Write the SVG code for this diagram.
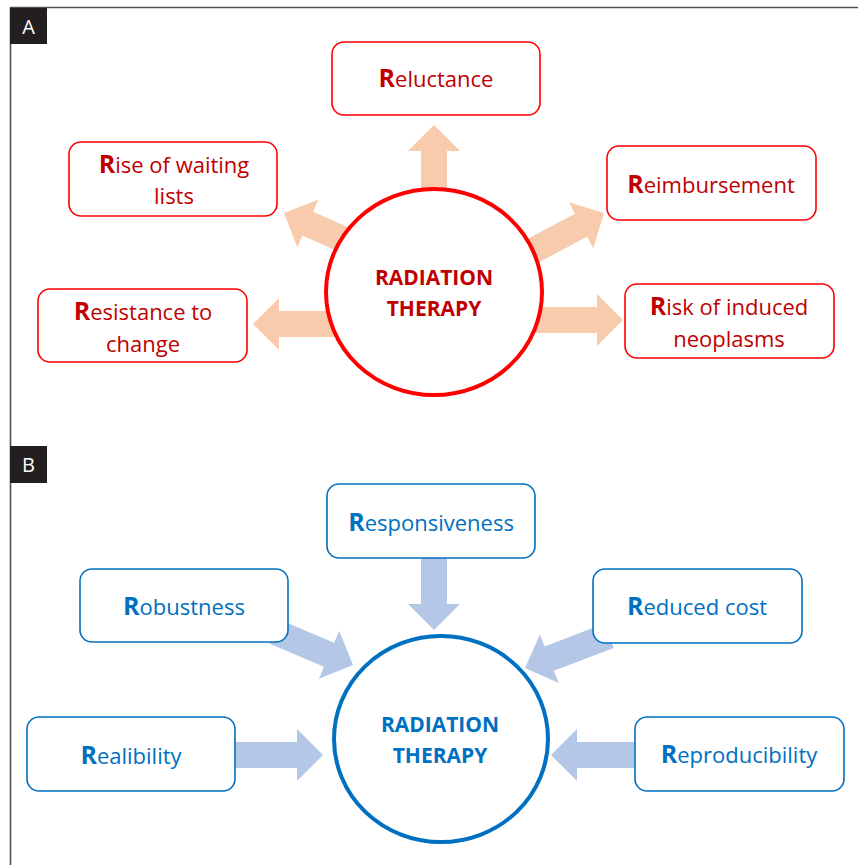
<svg xmlns="http://www.w3.org/2000/svg" width="858" height="865" viewBox="0 0 858 865">
<style>
.frame{stroke:#505050;stroke-width:1.6;fill:none}
.tag{fill:#231F20}
.tagt{fill:#fff;font-family:"Open Sans","Liberation Sans",sans-serif;font-size:20px;text-anchor:middle}
.boxA{fill:#fff;stroke:#FF0000;stroke-width:1.6}
.boxB{fill:#fff;stroke:#0070C0;stroke-width:1.6}
.txt{font-family:"Open Sans","Liberation Sans",sans-serif;font-size:22px;text-anchor:middle}
.tA{fill:#C00000}
.tB{fill:#0070C0}
.b{font-weight:bold;font-size:25px}
.ctr{font-family:"Open Sans","Liberation Sans",sans-serif;font-size:21px;font-weight:bold;text-anchor:middle}
.arA{fill:#F8CBAD}
.arB{fill:#B4C7E7}
</style>
<rect width="858" height="865" fill="#fff"/>
<g id="frame">
<line class="frame" x1="10" y1="7.5" x2="858" y2="7.5"/>
<line class="frame" x1="10.5" y1="7" x2="10.5" y2="865"/>
<rect class="tag" x="10" y="8" width="37" height="36"/>
<text class="tagt" x="28.5" y="34">A</text>
<rect class="tag" x="10" y="446" width="37" height="37"/>
<text class="tagt" x="28.5" y="472">B</text>
</g>
<g id="connectors">
<polygon class="arA" transform="translate(434,125) rotate(-90)" points="0,0 -26,-26 -26,-13 -167,-13 -167,13 -26,13 -26,26"/>
<polygon class="arA" transform="translate(284,213) rotate(204)" points="0,0 -26,-26 -26,-13 -169,-13 -169,13 -26,13 -26,26"/>
<polygon class="arA" transform="translate(604,213) rotate(-28)" points="0,0 -26,-26 -26,-13 -170,-13 -170,13 -26,13 -26,26"/>
<polygon class="arA" transform="translate(253,324) rotate(180)" points="0,0 -26,-26 -26,-13 -180,-13 -180,13 -26,13 -26,26"/>
<polygon class="arA" transform="translate(623,320)" points="0,0 -26,-26 -26,-13 -190,-13 -190,13 -26,13 -26,26"/>
<polygon class="arB" transform="translate(434,630) rotate(90)" points="0,0 -26,-26 -26,-13 -85,-13 -85,13 -26,13 -26,26"/>
<polygon class="arB" transform="translate(353,665) rotate(23)" points="0,0 -26,-26 -26,-13 -85,-13 -85,13 -26,13 -26,26"/>
<polygon class="arB" transform="translate(525,668) rotate(159)" points="0,0 -26,-26 -26,-13 -90,-13 -90,13 -26,13 -26,26"/>
<polygon class="arB" transform="translate(323,755)" points="0,0 -26,-26 -26,-13 -100,-13 -100,13 -26,13 -26,26"/>
<polygon class="arB" transform="translate(551,755) rotate(180)" points="0,0 -26,-26 -26,-13 -100,-13 -100,13 -26,13 -26,26"/>
</g>
<g id="centerA">
<ellipse cx="434" cy="292" rx="108" ry="103" fill="#fff" stroke="#FF0000" stroke-width="4"/>
<text class="ctr tA" x="434" y="285">RADIATION</text>
<text class="ctr tA" x="434" y="316">THERAPY</text>
</g>
<g id="reluctance">
<rect class="boxA" x="332" y="42" width="208" height="73" rx="12"/>
<text class="txt tA" x="436" y="87"><tspan class="b">R</tspan>eluctance</text>
</g>
<g id="rise">
<rect class="boxA" x="69" y="142" width="208" height="74" rx="12"/>
<text class="txt tA" x="174" y="173"><tspan class="b">R</tspan>ise of waiting</text>
<text class="txt tA" x="174" y="204">lists</text>
</g>
<g id="reimbursement">
<rect class="boxA" x="607" y="146" width="209" height="74" rx="12"/>
<text class="txt tA" x="711" y="193"><tspan class="b">R</tspan>eimbursement</text>
</g>
<g id="resistance">
<rect class="boxA" x="38" y="289" width="209" height="73" rx="12"/>
<text class="txt tA" x="143" y="320"><tspan class="b">R</tspan>esistance to</text>
<text class="txt tA" x="143" y="352">change</text>
</g>
<g id="risk">
<rect class="boxA" x="625" y="284" width="209" height="74" rx="12"/>
<text class="txt tA" x="729" y="315"><tspan class="b">R</tspan>isk of induced</text>
<text class="txt tA" x="729" y="347">neoplasms</text>
</g>
<g id="centerB">
<ellipse cx="441" cy="739" rx="107" ry="103" fill="#fff" stroke="#0070C0" stroke-width="4"/>
<text class="ctr tB" x="440" y="732">RADIATION</text>
<text class="ctr tB" x="440" y="763">THERAPY</text>
</g>
<g id="responsiveness">
<rect class="boxB" x="327" y="484" width="208" height="74" rx="12"/>
<text class="txt tB" x="431" y="531"><tspan class="b">R</tspan>esponsiveness</text>
</g>
<g id="robustness">
<rect class="boxB" x="80" y="569" width="208" height="73" rx="12"/>
<text class="txt tB" x="184" y="615"><tspan class="b">R</tspan>obustness</text>
</g>
<g id="reducedcost">
<rect class="boxB" x="593" y="569" width="209" height="74" rx="12"/>
<text class="txt tB" x="697" y="615"><tspan class="b">R</tspan>educed cost</text>
</g>
<g id="realibility">
<rect class="boxB" x="27" y="717" width="208" height="74" rx="12"/>
<text class="txt tB" x="131" y="764"><tspan class="b">R</tspan>ealibility</text>
</g>
<g id="reproducibility">
<rect class="boxB" x="635" y="717" width="209" height="74" rx="12"/>
<text class="txt tB" x="739" y="763"><tspan class="b">R</tspan>eproducibility</text>
</g>
</svg>
